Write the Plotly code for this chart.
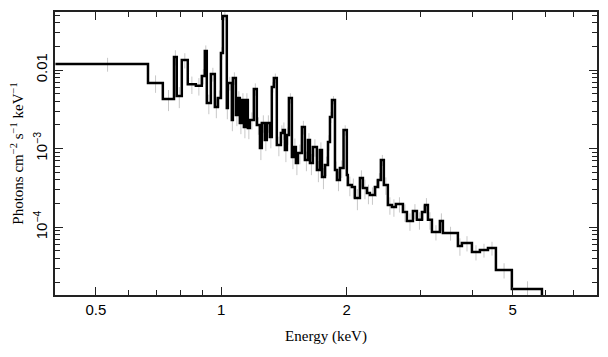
import plotly.graph_objects as go

# Bin lower edges (keV) and model flux (photons cm^-2 s^-1 keV^-1)
bin_lo = [0.400, 0.667, 0.724, 0.770, 0.782, 0.804, 0.831, 0.869, 0.898, 0.913,
          0.923, 0.944, 0.965, 0.981, 0.998, 1.009, 1.031, 1.037, 1.060, 1.066,
          1.084, 1.096, 1.108, 1.121, 1.133, 1.146, 1.158, 1.171, 1.197, 1.217,
          1.238, 1.251, 1.272, 1.286, 1.308, 1.322, 1.337, 1.359, 1.390, 1.405,
          1.421, 1.437, 1.453, 1.477, 1.494, 1.510, 1.527, 1.561, 1.587, 1.614,
          1.632, 1.659, 1.696, 1.724, 1.744, 1.773, 1.803, 1.823, 1.843, 1.874,
          1.895, 1.926, 1.965, 2.001, 2.012, 2.057, 2.092, 2.151, 2.187, 2.236,
          2.273, 2.337, 2.376, 2.415, 2.455, 2.510, 2.567, 2.624, 2.728, 2.789,
          2.883, 2.947, 3.030, 3.081, 3.132, 3.202, 3.346, 3.402, 3.696, 3.779,
          3.994, 4.174, 4.364, 4.560, 4.980]
last_edge = 5.88

flux = [0.0119, 0.00683, 0.00428, 0.0146, 0.00467, 0.0134, 0.0066, 0.0063, 0.00839, 0.0174,
        0.0038, 0.00889, 0.00338, 0.0044, 0.0165, 0.0486, 0.00328, 0.00683, 0.00231, 0.00791,
        0.00268, 0.0044, 0.00212, 0.00415, 0.00188, 0.00415, 0.00183, 0.00231, 0.00573, 0.0020,
        0.00102, 0.00212, 0.00129, 0.00212, 0.0014, 0.00608, 0.00791, 0.00111, 0.00158, 0.00172,
        0.00096, 0.00149, 0.0044, 0.000782, 0.00105, 0.000656, 0.000879, 0.00188, 0.000716, 0.00129,
        0.000656, 0.00105, 0.000534, 0.00096, 0.000435, 0.000618, 0.00121, 0.00252, 0.00415, 0.000534,
        0.000399, 0.000566, 0.00172, 0.000461, 0.000344, 0.000325, 0.000235, 0.000423, 0.000315, 0.000272,
        0.000257, 0.000325, 0.000399, 0.000716, 0.000344, 0.000192, 0.000181, 0.000197, 0.000156, 0.00012,
        0.000161, 0.000124, 0.000156, 0.000192, 0.000124, 8.69e-5, 0.00012, 8.44e-5, 5.77e-5, 6.3e-5,
        4.84e-5, 5.13e-5, 5.44e-5, 2.85e-5, 1.64e-5]

# Relative 1-sigma errors of the data points
err_frac = [0.20, 0.25, 0.30, 0.22, 0.30, 0.22, 0.25, 0.25, 0.22, 0.18,
            0.28, 0.20, 0.28, 0.25, 0.18, 0.12, 0.28, 0.20, 0.28, 0.18,
            0.28, 0.22, 0.28, 0.22, 0.28, 0.22, 0.28, 0.25, 0.18, 0.25,
            0.30, 0.25, 0.28, 0.25, 0.28, 0.15, 0.14, 0.28, 0.25, 0.25,
            0.30, 0.25, 0.15, 0.30, 0.28, 0.30, 0.28, 0.20, 0.28, 0.22,
            0.30, 0.25, 0.30, 0.25, 0.30, 0.28, 0.22, 0.16, 0.12, 0.28,
            0.28, 0.25, 0.15, 0.28, 0.28, 0.28, 0.30, 0.25, 0.28, 0.28,
            0.25, 0.25, 0.22, 0.16, 0.25, 0.25, 0.25, 0.22, 0.25, 0.25,
            0.22, 0.25, 0.22, 0.22, 0.25, 0.22, 0.25, 0.20, 0.25, 0.22,
            0.22, 0.20, 0.20, 0.22, 0.25]

x_major = [0.5, 1, 2, 5]
x_major_text = ["0.5", "1", "2", "5"]
x_minor = [0.4, 0.6, 0.7, 0.8, 0.9, 3, 4, 6, 7]
y_major = [1e-2, 1e-3, 1e-4]
y_major_text = ["0.01", "10<sup>\u22123</sup>", "10<sup>\u22124</sup>"]
y_minor = [2e-5, 3e-5, 4e-5, 5e-5, 6e-5, 7e-5, 8e-5, 9e-5,
           2e-4, 3e-4, 4e-4, 5e-4, 6e-4, 7e-4, 8e-4, 9e-4,
           2e-3, 3e-3, 4e-3, 5e-3, 6e-3, 7e-3, 8e-3, 9e-3,
           2e-2, 3e-2, 4e-2, 5e-2]

edges = bin_lo + [last_edge]
centers = [(edges[i] + edges[i + 1]) / 2 for i in range(len(bin_lo))]
err = [f * v for f, v in zip(err_frac, flux)]

fig = go.Figure()
fig.add_trace(go.Scatter(
    x=centers, y=flux, mode="markers",
    marker=dict(size=1, color="rgba(0,0,0,0)"),
    error_y=dict(type="data", array=err, color="#c8c8c8", thickness=1, width=0),
    showlegend=False, hoverinfo="skip"))
fig.add_trace(go.Scatter(
    x=edges + [last_edge], y=flux + [flux[-1], 1e-6],
    mode="lines", line=dict(shape="hv", color="black", width=2.5),
    showlegend=False))

axis_common = dict(showgrid=False, zeroline=False, showline=True, linecolor="#222",
                   linewidth=1.5, mirror="allticks", ticks="inside", ticklen=8,
                   tickwidth=1.2, tickcolor="#222", automargin=False,
                   tickfont=dict(family="Liberation Sans, Arial", size=15, color="black"))

# page body has an 8px default margin, so the figure is sized to fit inside it
fig.update_layout(
    width=600, height=349,
    margin=dict(l=47, r=11, t=4, b=62),
    plot_bgcolor="white", paper_bgcolor="white",
    xaxis=dict(type="log", range=[-0.399, 0.9015],
               tickmode="array", tickvals=x_major, ticktext=x_major_text,
               minor=dict(tickvals=x_minor, ticks="inside", ticklen=5, tickcolor="#222", tickwidth=1.2),
               title=dict(text="Energy (keV)", standoff=14,
                          font=dict(family="Liberation Serif, Times New Roman", size=15, color="black")),
               **axis_common),
    yaxis=dict(type="log", range=[-4.8626, -1.2621],
               tickmode="array", tickvals=y_major, ticktext=y_major_text, tickangle=-90,
               minor=dict(tickvals=y_minor, ticks="inside", ticklen=5, tickcolor="#222", tickwidth=1.2),
               title=dict(text="Photons cm<sup>\u22122</sup> s<sup>\u22121</sup> keV<sup>\u22121</sup>",
                          standoff=6,
                          font=dict(family="Liberation Serif, Times New Roman", size=15, color="black")),
               **axis_common),
)

fig.write_html("out.html")
